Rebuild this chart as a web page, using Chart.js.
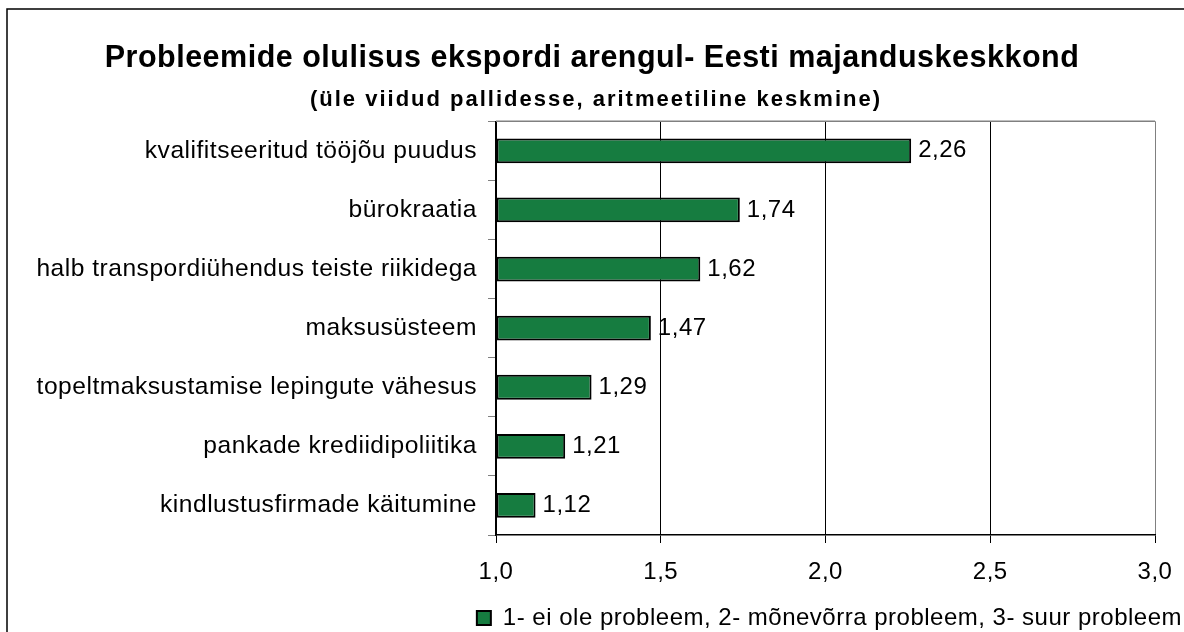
<!DOCTYPE html>
<html>
<head>
<meta charset="utf-8">
<script src="https://cdn.jsdelivr.net/npm/chart.js@4/dist/chart.umd.min.js"></script>
<style>
  html, body { margin: 0; padding: 0; background: #fff; overflow: hidden; }
  #wrap { width: 1184px; height: 640px; position: relative; }
</style>
</head>
<body>
<div id="wrap"><canvas id="chart"></canvas></div>
<script>
var categories = [
    "kvalifitseeritud tööjõu puudus",
    "bürokraatia",
    "halb transpordiühendus teiste riikidega",
    "maksusüsteem",
    "topeltmaksustamise lepingute vähesus",
    "pankade krediidipoliitika",
    "kindlustusfirmade käitumine"
];
var values = [2.26, 1.74, 1.62, 1.47, 1.29, 1.21, 1.12];
var seriesLabel = "1- ei ole probleem, 2- mõnevõrra probleem, 3- suur probleem";
var titleText = "Probleemide olulisus ekspordi arengul- Eesti majanduskeskkond";
var subtitleText = "(üle viidud pallidesse, aritmeetiline keskmine)";
var xMin = 1, xMax = 3, xStep = 0.5;

var fontFam = "'Liberation Sans', Arial, sans-serif";

function comma(v, d){
    return Number(v).toFixed(d).replace('.', ',');
}

// canvas resets its state on resize, so put the spacing back each time
function spacing(chart){
    chart.ctx.letterSpacing = '0.5px';
}

var framePlugin = {
    id: 'frame',
    beforeLayout: spacing,
    beforeDraw: function(chart){
        spacing(chart);
        var c = chart.ctx;
        c.save();
        c.fillStyle = '#fff';
        c.fillRect(0, 0, chart.width, chart.height);
        c.strokeStyle = '#000';
        c.lineWidth = 1.5;
        c.strokeRect(7, 9, chart.width + 20, chart.height + 20);
        c.restore();
    },
    beforeDatasetsDraw: function(chart){
        var a = chart.chartArea, c = chart.ctx;
        c.save();
        c.strokeStyle = '#808080';
        c.lineWidth = 1.5;
        c.beginPath();
        c.moveTo(a.left, a.top);
        c.lineTo(a.right, a.top);
        c.stroke();
        c.restore();
    },
    afterDraw: function(chart){
        // second title line, wider spaced than the rest
        var c = chart.ctx;
        c.save();
        c.letterSpacing = '2px';
        c.font = "bold 22px " + fontFam;
        c.fillStyle = '#000';
        c.textAlign = 'center';
        c.textBaseline = 'middle';
        c.fillText(subtitleText, 596, 100);
        c.restore();
    }
};

// value labels at the end of each bar
var valueLabels = {
    id: 'valueLabels',
    afterDatasetsDraw: function(chart){
        var c = chart.ctx;
        var meta = chart.getDatasetMeta(0);
        c.save();
        c.font = "24px " + fontFam;
        c.fillStyle = '#000';
        c.textBaseline = 'middle';
        c.textAlign = 'left';
        meta.data.forEach(function(bar, i){
            c.fillText(comma(values[i], 2), bar.x + 7, bar.y);
        });
        c.restore();
    }
};

var ctx = document.getElementById('chart').getContext('2d');
window.myBar = new Chart(ctx, {
    type: 'bar',
    data: {
        labels: categories,
        datasets: [{
            label: seriesLabel,
            data: values,
            base: xMin,
            backgroundColor: '#167c40',
            borderColor: '#000',
            borderWidth: 2,
            borderSkipped: false,
            barPercentage: 0.42,
            categoryPercentage: 1
        }]
    },
    options: {
        indexAxis: 'y',
        responsive: true,
        maintainAspectRatio: false,
        animation: false,
        layout: { padding: 0 },
        scales: {
            x: {
                min: xMin,
                max: xMax,
                afterFit: function(scale){
                    scale.height = 69;
                    scale.paddingRight = 29;
                },
                ticks: {
                    stepSize: xStep,
                    padding: 15,
                    color: '#000',
                    font: { family: fontFam, size: 24 },
                    callback: function(v){ return comma(v, 1); }
                },
                grid: {
                    color: function(c){ return c.tick && c.tick.value === xMax ? '#808080' : '#000'; },
                    lineWidth: 1,
                    tickLength: 8,
                    tickColor: '#000'
                },
                border: { color: '#000', width: 1.5 }
            },
            y: {
                afterFit: function(scale){ scale.width = 496; },
                ticks: {
                    padding: 11,
                    color: '#000',
                    font: { family: fontFam, size: 24.6 }
                },
                grid: {
                    offset: true,
                    drawOnChartArea: false,
                    tickLength: 8,
                    tickColor: '#808080'
                },
                border: { color: '#000', width: 1.5 }
            }
        },
        plugins: {
            title: {
                display: true,
                text: titleText,
                color: '#000',
                font: { family: fontFam, size: 30.5, weight: 'bold' },
                padding: { top: 40, bottom: 44.7 }
            },
            legend: {
                position: 'bottom',
                align: 'end',
                labels: {
                    color: '#000',
                    boxWidth: 14,
                    boxHeight: 14,
                    padding: 2,
                    font: { family: fontFam, size: 24 }
                }
            },
            tooltip: { enabled: false }
        }
    },
    plugins: [framePlugin, valueLabels]
});
</script>
</body>
</html>
